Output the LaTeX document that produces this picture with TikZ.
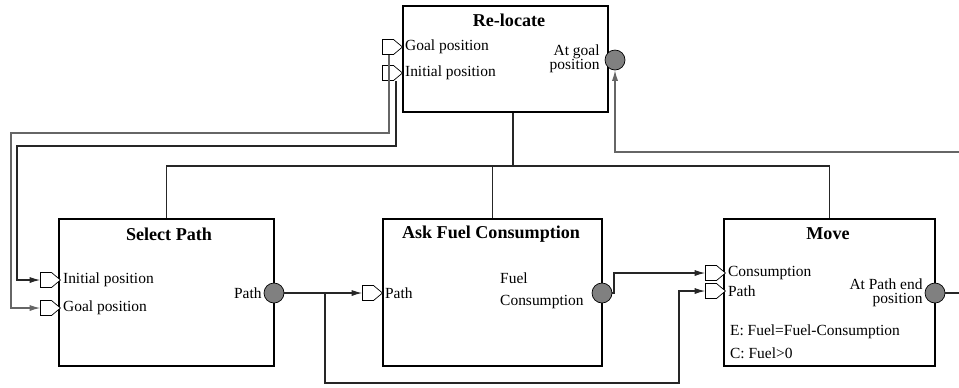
\documentclass[tikz,border=0pt]{standalone}
\usepackage{fontspec}
\setmainfont{Liberation Serif}
\usetikzlibrary{arrows.meta,shapes.symbols}

\tikzset{
  block/.style={draw, thick, rectangle, inner sep=0pt},
  title/.style={font=\fontsize{10.3}{12}\selectfont\bfseries},
  txt/.style={font=\fontsize{8.8}{9.5}\selectfont, inner sep=1pt},
  inport/.style={draw, fill=white, shape=signal, signal to=east, signal pointer angle=80,
    minimum width=0.4cm, minimum height=0.3cm, inner xsep=0.07cm, inner ysep=0.14cm, anchor=east},
  outport/.style={draw, fill=black!50, circle, minimum size=0.4cm, inner sep=0pt},
  wire/.style={black!85, semithick},
  >={Latex[length=6pt,width=3.5pt]}
}

\begin{document}
\begin{tikzpicture}[x=0.02cm,y=-0.02cm]
        \useasboundingbox (0,0) rectangle (959,387);

        % Blocks
        \node[block, minimum width=4.1cm,  minimum height=2.12cm] (rl)  at (505.5,59)  {};
        \node[block, minimum width=4.3cm,  minimum height=2.94cm] (sp)  at (166.5,292.5) {};
        \node[block, minimum width=4.38cm, minimum height=2.94cm] (afc) at (492.5,292.5) {};
        \node[block, minimum width=4.22cm, minimum height=2.94cm] (mv)  at (829.5,292.5) {};

        \node[title] (rlT)  at (509,20)  {Re-locate};
        \node[title] (spT)  at (169,234) {Select Path};
        \node[title] (afcT) at (491,234) {Ask Fuel Consumption};
        \node[title] (mvT)  at (828,234) {Move};

        % Ports
        \node[inport] (rlGoal) at (403,47)  {};
        \node[inport] (rlInit) at (403,73)  {};
        \node[outport] (rlAt)  at (615,60)  {};
        \node[inport] (spInit) at (61,280)  {};
        \node[inport] (spGoal) at (61,308)  {};
        \node[outport] (spPath) at (274,293) {};
        \node[inport] (afcPath) at (383,293) {};
        \node[outport] (afcFuel) at (602,293) {};
        \node[inport] (mvCons) at (726,273) {};
        \node[inport] (mvPath) at (726,291) {};
        \node[outport] (mvEnd) at (935,293) {};

        % Port labels
        \node[txt, anchor=west] (rlGoalL) at (rlGoal.east) {Goal position};
        \node[txt, anchor=west] (rlInitL) at (rlInit.east) {Initial position};
        \node[txt, anchor=east, align=right] (rlAtL) at ([xshift=-0.06cm,yshift=0.02cm]rlAt.west) {At goal\\[-1.5pt]position};
        \node[txt, anchor=west] (spInitL) at (spInit.east) {Initial position};
        \node[txt, anchor=west] (spGoalL) at (spGoal.east) {Goal position};
        \node[txt, anchor=east] (spPathL) at (spPath.west) {Path};
        \node[txt, anchor=west] (afcPathL) at (afcPath.east) {Path};
        \node[txt, anchor=east, align=left] (afcFuelL) at ([xshift=-0.12cm,yshift=0.04cm]afcFuel.west) {Fuel\\[3pt]Consumption};
        \node[txt, anchor=west] (mvConsL) at (mvCons.east) {Consumption};
        \node[txt, anchor=west] (mvPathL) at (mvPath.east) {Path};
        \node[txt, anchor=east, align=right] (mvEndL) at (mvEnd.west) {At Path end\\[-1.5pt]position};
        \node[txt, anchor=west] (mvE) at (728,332) {E: Fuel=Fuel-Consumption};
        \node[txt, anchor=west] (mvC) at (728,353) {C: Fuel>0};

        % Hierarchy bus
        \coordinate (bus) at (513,166);
        \draw[wire] (bus |- rl.south) -- (bus);
        \draw[wire] (sp.north) |- (bus) -| (mv.north);
        \draw[wire] (afc.north) -- (afc.north |- bus);

        % Connections
        \coordinate (goalDown) at (389,133);
        \coordinate (initDown) at (396,146);
        \coordinate (pathFork) at (325,293);
        \coordinate (pathLow)  at (679,383);
        \coordinate (fuelUp)   at (614,273);
        \coordinate (endOut)   at (959,293);
        \coordinate (backIn)   at (959,152);

        \draw[wire, black!60, ->] (goalDown |- rlGoal.south) -- (goalDown) -| (11,0 |- spGoal.west) -- (spGoal.west);
        \draw[wire, ->] (initDown |- rlInit.south) -- (initDown) -| (17,0 |- spInit.west) -- (spInit.west);
        \draw[wire, ->] (spPath.east) -- (pathFork) -- (afcPath.west);
        \draw[wire, ->] (pathFork) |- (pathLow) |- (mvPath.west);
        \draw[wire, ->] (afcFuel.east) -| (fuelUp) -- (mvCons.west);
        \draw[wire] (mvEnd.east) -- (endOut);
        \draw[wire, black!60, ->] (backIn) -| (rlAt.south);
    \end{tikzpicture}
\end{document}
